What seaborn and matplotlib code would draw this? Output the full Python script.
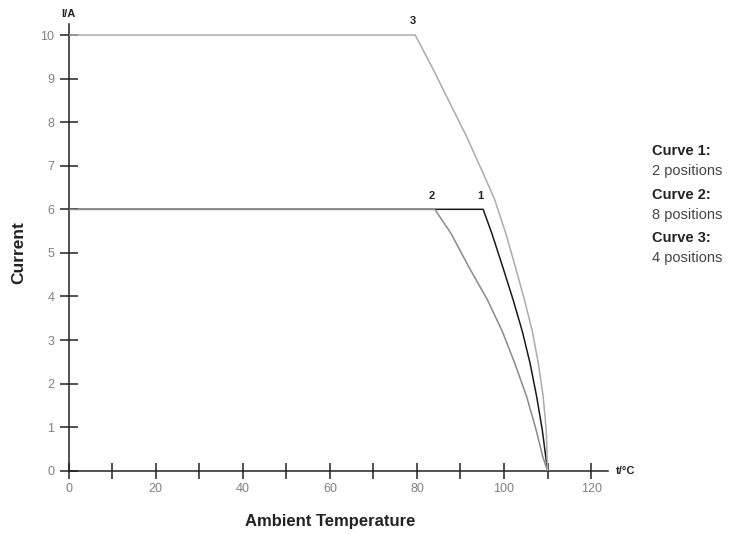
import matplotlib
matplotlib.use("Agg")
import matplotlib.pyplot as plt
import pandas as pd
import seaborn as sns

# derating curves (t in degC, I in A)
curve1_t = [0, 95.2, 97.2, 99.7, 102.1, 104.2, 106.0, 107.5, 108.8, 110]
curve1_i = [6, 6, 5.45, 4.68, 3.92, 3.2, 2.46, 1.70, 0.93, 0]

curve2_t = [0, 84.1, 87.8, 91.9, 96.2, 99.6, 102.5, 105.2, 107.4, 108.9, 110]
curve2_i = [6, 6, 5.45, 4.68, 3.92, 3.2, 2.46, 1.70, 0.93, 0.32, 0]

curve3_t = [0, 79.6, 83.8, 87.6, 91.4, 95.2, 97.9, 100.4, 102.6, 104.7,
            106.5, 107.9, 109.0, 109.7, 110]
curve3_i = [10, 10, 9.2, 8.43, 7.67, 6.83, 6.21, 5.45, 4.68, 3.92,
            3.2, 2.46, 1.70, 0.93, 0]

curve_names = ["1", "2", "3"]
curve_positions = ["2 positions", "8 positions", "4 positions"]
curve_colors = ["#1a1a1a", "#8a8a8a", "#ababab"]

x_ticks = list(range(0, 121, 10))
x_labels = [str(t) if t % 20 == 0 else "" for t in x_ticks]
y_ticks = list(range(0, 11))

sns.set_style("white")
plt.rcParams["font.family"] = ["Liberation Sans", "DejaVu Sans"]

fig = plt.figure(figsize=(7.31, 5.34), dpi=100)
ax = fig.add_axes([0.094, 0.1185, 0.7384, 0.8363])

curves = [(curve1_t, curve1_i), (curve2_t, curve2_i), (curve3_t, curve3_i)]
# 1 first so the grey 2 lies on top of the shared flat part
for (t, i), name, col in zip(curves, curve_names, curve_colors):
    df = pd.DataFrame({"t": t, "i": i})
    sns.lineplot(data=df, x="t", y="i", ax=ax, color=col, lw=1.1,
                 sort=False, estimator=None)
    ax.text(t[1] - 0.6, i[1] + 0.2, name, ha="center", va="bottom",
            fontsize=8, fontweight="bold", color="#222222")

ax.set_xlim(0, 124)
ax.set_ylim(0, 10.25)
ax.set_xticks(x_ticks)
ax.set_xticklabels(x_labels)
ax.set_yticks(y_ticks)
ax.tick_params(axis="both", bottom=True, left=True, direction="inout",
               width=1.1, color="#222222", labelcolor="#808080", labelsize=9)
ax.tick_params(axis="x", length=11.5, pad=3)
ax.tick_params(axis="y", length=12.5, pad=4)
for s in ["top", "right"]:
    ax.spines[s].set_visible(False)
for s in ["left", "bottom"]:
    ax.spines[s].set_color("#222222")
    ax.spines[s].set_linewidth(1.1)
    ax.spines[s].set_zorder(0.5)

ax.set_xlabel("Ambient Temperature", fontsize=12, fontweight="bold",
              color="#222222")
ax.xaxis.set_label_coords(0.484, -0.097)
ax.set_ylabel("Current", fontsize=12.5, fontweight="bold", color="#222222")
ax.yaxis.set_label_coords(-0.079, 0.488)

ax.text(125.8, 0, "t/°C", ha="left", va="center", fontsize=8,
        fontweight="bold", color="#222222", clip_on=False)
ax.text(0, 10.36, "I/A", ha="center", va="bottom", fontsize=8,
        fontweight="bold", color="#222222", clip_on=False)

ys = [0.717, 0.635, 0.554]
for name, pos, y in zip(curve_names, curve_positions, ys):
    fig.text(0.892, y, f"Curve {name}:", ha="left", va="center",
             fontsize=10.5, fontweight="bold", color="#222222")
    fig.text(0.892, y - 0.037, pos, ha="left", va="center",
             fontsize=10.5, color="#444444")

fig.savefig("out.png", dpi=100)
